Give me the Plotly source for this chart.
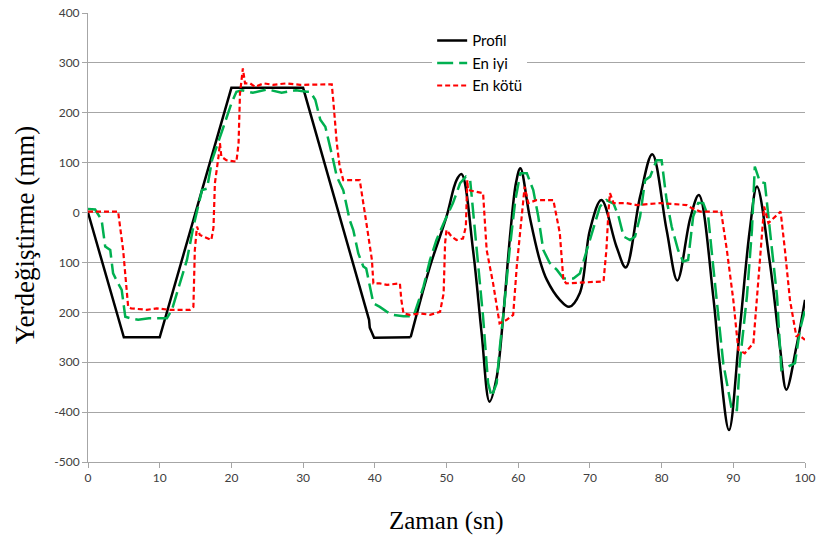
import plotly.graph_objects as go

# Profile (black): straight ramp part, then smooth oscillating part
profile_lin_x = [0, 5, 10, 20, 30, 39.2, 39.3, 39.9, 45]
profile_lin_y = [0, -250, -250, 250, 250, -215, -231, -251, -250]

profile_osc_x = [45, 47.7, 50.0, 51.4, 52.1, 53.7, 54.9, 56.0, 57.0, 57.9, 58.9, 59.7, 60.3,
                 61.6, 63.0, 64.0, 65.8, 67.1, 68.6, 70.0, 71.6, 73.7, 75.0, 77.0, 78.7,
                 80.7, 82.2, 84.0, 85.2, 87.2, 88.1, 89.4, 90.9, 92.3, 93.3, 95.1, 96.5,
                 97.4, 98.8, 100]
profile_osc_y = [-250, -108, -8, 65, 77, -75, -242, -379, -330, -209, -41, 60, 89,
                 -8, -95, -135, -175, -189, -161, -35, 25, -68, -110, 32, 117,
                 -35, -136, -11, 35, -168, -302, -436, -235, -35, 52, -101, -269,
                 -355, -269, -175]

# En iyi (green)
best_x = [0, 1.0, 1.9, 2.4, 3.1, 3.5, 4.2, 4.7, 5.2, 5.9, 7.0, 8.5, 9.6, 11.0, 11.7, 12.4, 13.8,
          14.7, 15.9, 16.6, 17.3, 18.9, 20.0, 20.7, 21.5, 23, 25, 27, 29, 30.5, 31.0, 31.7,
          32.4, 33.1, 33.8, 34.2, 34.7, 35.6, 36.5, 37.0, 37.7, 38.4, 38.8, 39.3, 39.8, 40.7,
          41.7, 42.6, 44.0, 45.4, 46.8, 47.7, 48.6, 49.8, 50.9, 51.9, 52.7, 53.3, 54.2, 55.1,
          55.8, 56.3, 57.0, 57.4, 57.9, 58.8, 59.6, 60.3, 61.2, 62.1, 62.8, 63.5, 64.4, 65.4,
          66.3, 67.7, 68.6, 69.6, 70.5, 71.4, 72.3, 73.3, 74.0, 74.7, 75.6, 76.3, 77.0, 77.7,
          78.4, 79.3, 80.0, 80.7, 81.4, 82.3, 83.0, 83.7, 84.4, 85.1, 85.8, 86.5, 87.2, 88.1,
          88.6, 89.8, 90.5, 90.9, 91.9, 92.6, 93.0, 93.7, 94.4, 95.1, 96.1, 96.7, 97.6, 98.6,
          99.3, 100]
best_y = [7, 6, -15, -68, -75, -122, -142, -155, -209, -212, -215, -212, -212, -212, -195, -162, -95,
          -28, 45, 48, 105, 172, 219, 242, 245, 240, 247, 240, 245, 242, 242, 226,
          186, 172, 132, 105, 72, 45, -15, -35, -82, -108, -112, -148, -182, -189,
          -199, -205, -208, -208, -148, -95, -55, -15, 19, 59, 72, 65, -75, -209,
          -342, -369, -342, -275, -209, -75, 25, 79, 79, 45, -8, -75, -101, -115,
          -132, -132, -122, -75, -35, 12, 25, 18, -8, -48, -55, -48, -8, 65,
          72, 105, 105, 25, -28, -75, -98, -95, -8, 19, 19, -8, -108, -242,
          -302, -396, -396, -302, -168, -35, 92, 62, 59, -35, -168, -315, -309, -302,
          -235, -195]

# En kötü (red)
worst_x = [0, 4.2, 4.9, 5.6, 6.0, 8.2, 9.6, 11.4, 14.2, 14.7, 14.9, 15.2, 15.6, 17.2, 17.5, 17.7,
           18.2, 18.4, 18.6, 19.3, 20.7, 21.0, 21.2, 21.6, 21.9, 22.6, 23.3, 24.5, 25.8, 27.7,
           29.6, 31.4, 34.0, 34.2, 34.7, 35.1, 35.6, 37.9, 38.2, 38.9, 39.6, 39.8, 40.7, 41.7,
           43.5, 43.7, 44.0, 44.9, 46.3, 47.7, 49.1, 49.6, 49.8, 50.0, 50.7, 51.4, 52.3, 52.7,
           52.9, 53.0, 55.1, 55.6, 56.5, 57.2, 57.4, 58.4, 59.3, 59.8, 60.5, 60.9, 61.4, 62.6,
           64.9, 65.8, 66.3, 66.7, 71.9, 72.3, 72.6, 72.8, 73.3, 75.1, 76.5, 79.8, 83.5, 84.2,
           85.4, 88.3, 89.1, 90.0, 90.7, 91.6, 92.8, 93.3, 94.0, 94.3, 94.9, 95.8, 96.6, 97.2,
           97.9, 98.8, 99.1, 100]
worst_y = [2, 2, -75, -189, -192, -195, -192, -195, -195, -189, -75, -28, -45, -55, -30, 59,
           112, 139, 112, 105, 102, 139, 239, 289, 259, 259, 252, 259, 256, 259,
           256, 257, 257, 226, 139, 92, 65, 65, 39, -28, -95, -142, -142, -145,
           -142, -175, -202, -205, -202, -205, -199, -162, -62, -35, -48, -55, -52, -28,
           65, 45, 39, -75, -142, -209, -222, -215, -205, -108, -8, 52, 19, 25,
           25, -41, -135, -142, -138, -75, 5, 39, 19, 19, 15, 19, 15, 9,
           2, 2, -75, -175, -275, -282, -262, -175, -41, 12, -21, -8, 2, -75,
           -175, -249, -245, -255]

x_ticks = [0, 10, 20, 30, 40, 50, 60, 70, 80, 90, 100]
y_ticks = [-500, -400, -300, -200, -100, 0, 100, 200, 300, 400]
y_tick_labels = ["-500", "-400", "300", "200", "100", "0", "100", "200", "300", "400"]

fig = go.Figure()
fig.add_trace(go.Scatter(x=profile_lin_x, y=profile_lin_y, mode="lines", name="Profil",
                         line=dict(color="#000000", width=2.5)))
fig.add_trace(go.Scatter(x=profile_osc_x, y=profile_osc_y, mode="lines", name="Profil",
                         showlegend=False,
                         line=dict(color="#000000", width=2.5, shape="spline", smoothing=1.0)))
fig.add_trace(go.Scatter(x=best_x, y=best_y, mode="lines", name="En iyi",
                         line=dict(color="#00B050", width=2.5, dash="16px,6px")))
fig.add_trace(go.Scatter(x=worst_x, y=worst_y, mode="lines", name="En kötü",
                         line=dict(color="#FF0000", width=2.2, dash="5px,3px")))

grid_col = "#A6A6A6"
tick_font = dict(family="Lato, Open Sans, sans-serif", size=12, color="#404040")

fig.update_layout(
    width=816, height=538,
    margin=dict(l=88, r=11, t=13, b=76),
    paper_bgcolor="white", plot_bgcolor="white",
    showlegend=True,
    legend=dict(x=0.48, y=0.975, xanchor="left", yanchor="top",
                bgcolor="white", borderwidth=0, itemwidth=30, tracegroupgap=0,
                font=dict(family="Lato, Open Sans, sans-serif", size=15, color="#000000")),
    xaxis=dict(range=[0, 100], tickvals=x_ticks, showgrid=False, zeroline=False,
               automargin=False,
               showline=True, linecolor=grid_col, linewidth=1,
               ticks="outside", ticklen=5, tickcolor=grid_col, tickfont=tick_font),
    yaxis=dict(range=[-500, 400], tickvals=y_ticks, ticktext=y_tick_labels,
               automargin=False,
               showgrid=True, gridcolor=grid_col, gridwidth=1, zeroline=False,
               showline=True, linecolor=grid_col, linewidth=1,
               ticks="outside", ticklen=5, tickcolor=grid_col, tickfont=tick_font),
    annotations=[
        dict(text="Zaman (sn)", xref="paper", yref="paper", x=0.5, y=-0.1314,
             xanchor="center", yanchor="middle", showarrow=False,
             font=dict(family="Liberation Serif, Times New Roman, serif", size=25, color="#000000")),
        dict(text="Yerdeğiştirme (mm)", xref="paper", yref="paper", x=-0.0879, y=0.505,
             xanchor="center", yanchor="middle", showarrow=False, textangle=-90,
             font=dict(family="Liberation Serif, Times New Roman, serif", size=27, color="#000000")),
    ],
)

fig.write_html("out.html")
